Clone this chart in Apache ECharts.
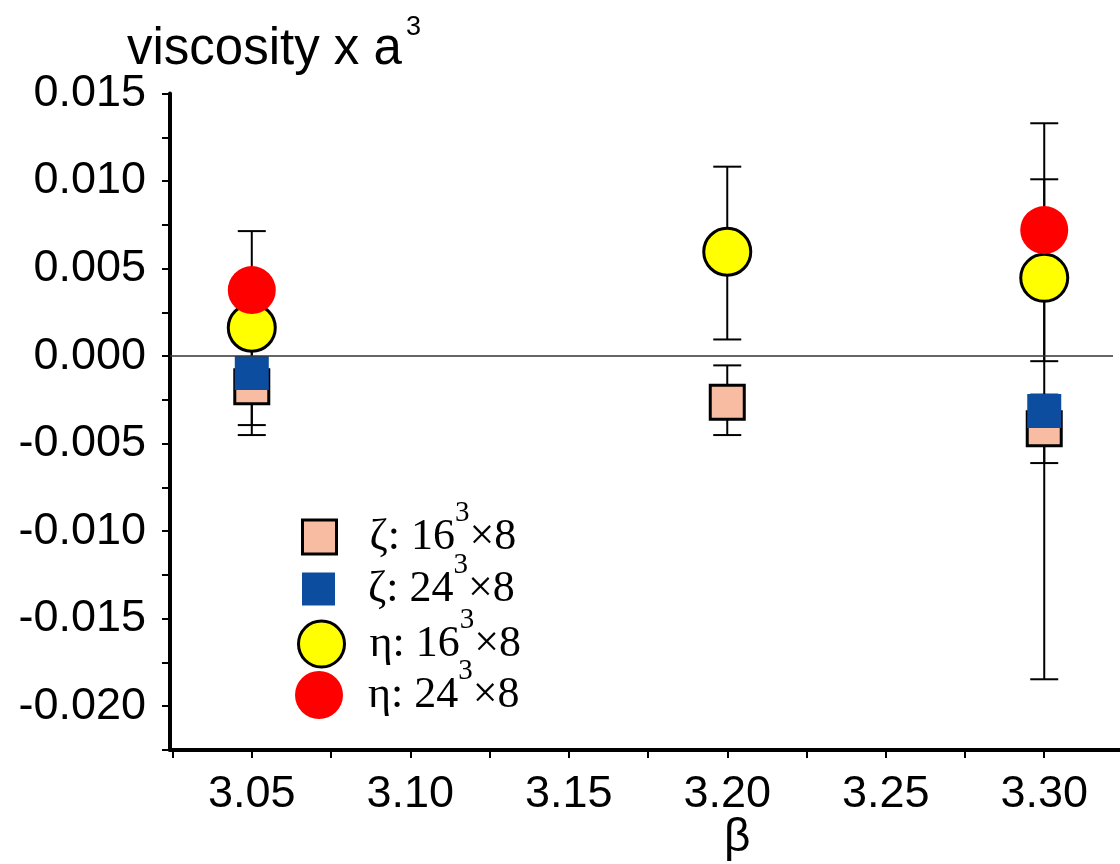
<!DOCTYPE html>
<html><head><meta charset="utf-8">
<script src="https://cdn.jsdelivr.net/npm/echarts@6/dist/echarts.min.js"></script>
<style>html,body{margin:0;padding:0;background:#fff}#c{width:1120px;height:864px}</style>
</head><body><div id="c"></div>
<script>
const betas = [3.05, 3.20, 3.30];
const zeta16 = [-0.00175, -0.00263, -0.00415];
const zeta16Low = [-0.00451, -0.00451, -0.00611];
const zeta16High = [0.0009, -0.00053, -0.0022];
const zeta24 = [-0.00097, null, -0.00314];
const zeta24Low = [null, null, -0.01846];
const zeta24High = [null, null, 0.0133];
const eta16 = [0.00162, 0.00596, 0.00447];
const eta16Low = [-0.00394, 0.00095, -0.00029];
const eta16High = [0.00714, 0.01082, 0.0101];
const eta24 = [0.00377, null, 0.0072];
const xTicks = [3.025, 3.05, 3.075, 3.10, 3.125, 3.15, 3.175, 3.20, 3.225, 3.25, 3.275, 3.30];
const xLabels = [3.05, 3.10, 3.15, 3.20, 3.25, 3.30];
const yLabels = [-0.020, -0.015, -0.010, -0.005, 0.000, 0.005, 0.010, 0.015];
const seriesNames = ['ζ: 16³×8', 'ζ: 24³×8', 'η: 16³×8', 'η: 24³×8'];
const legendRich = ['ζ: 16{s|3}×8', 'ζ: 24{s|3}×8', 'η: 16{s|3}×8', 'η: 24{s|3}×8'];
const xMin = 3.0242, xMax = 3.3239, zeroLineEnd = 3.3217;

const chart = echarts.init(document.getElementById('c'), null, {renderer: 'canvas'});

function pts(vals) {
  const out = [];
  betas.forEach((b, i) => { if (vals[i] != null) out.push([b, vals[i]]); });
  return out;
}
function errs(lo, hi) {
  const out = [];
  betas.forEach((b, i) => { if (lo[i] != null && hi[i] != null) out.push([b, lo[i], hi[i]]); });
  return out;
}
const errData = [].concat(errs(zeta16Low, zeta16High), errs(zeta24Low, zeta24High), errs(eta16Low, eta16High));

function renderErr(params, api) {
  const x = api.value(0), lo = api.value(1), hi = api.value(2);
  const pLo = api.coord([x, lo]), pHi = api.coord([x, hi]);
  const hw = 14;
  const style = {stroke: '#000', lineWidth: 2};
  return {type: 'group', children: [
    {type: 'line', shape: {x1: pLo[0], y1: pLo[1], x2: pHi[0], y2: pHi[1]}, style: style},
    {type: 'line', shape: {x1: pLo[0] - hw, y1: pLo[1], x2: pLo[0] + hw, y2: pLo[1]}, style: style},
    {type: 'line', shape: {x1: pHi[0] - hw, y1: pHi[1], x2: pHi[0] + hw, y2: pHi[1]}, style: style}
  ]};
}

const sans = 'Liberation Sans';
const serif = 'Liberation Serif';
const legendCfg = [
  {left: 301, top: 499, w: 34, h: 34, icon: 'rect', pad: 28, border: 3},
  {left: 302, top: 551, w: 33, h: 33, icon: 'rect', pad: 28, border: 0},
  {left: 297, top: 606, w: 46, h: 46, icon: 'circle', pad: 20, border: 3},
  {left: 295, top: 657, w: 48, h: 48, icon: 'circle', pad: 20, border: 0}
];

const option = {
  animation: false,
  backgroundColor: '#fff',
  title: [
    {text: 'viscosity x a{s|3}', left: 127, top: 14, padding: 0,
     textStyle: {fontFamily: sans, fontSize: 51, fontWeight: 'normal', color: '#000', lineHeight: 72,
       rich: {s: {fontFamily: sans, fontSize: 27, lineHeight: 26, verticalAlign: 'top', color: '#000', padding: [0, 0, 0, 4]}}}},
    {text: 'β', left: 724, top: 815, padding: 0,
     textStyle: {fontFamily: sans, fontSize: 46, fontWeight: 'normal', color: '#000'}}
  ],
  legend: seriesNames.map((n, i) => ({
    data: [{name: n, icon: legendCfg[i].icon}],
    left: legendCfg[i].left, top: legendCfg[i].top,
    itemWidth: legendCfg[i].w, itemHeight: legendCfg[i].h,
    padding: 0, selectedMode: false,
    itemStyle: {borderColor: '#000', borderWidth: legendCfg[i].border},
    formatter: () => legendRich[i],
    textStyle: {fontFamily: serif, fontSize: 44, color: '#000', lineHeight: 76, padding: [0, 0, 0, legendCfg[i].pad],
      rich: {s: {fontFamily: serif, fontSize: 29, lineHeight: 29, verticalAlign: 'top', color: '#000'}}}
  })),
  grid: {left: 170, right: 0, top: 93.5, bottom: 114, containLabel: false, outerBoundsMode: 'none'},
  xAxis: {
    type: 'value', min: xMin, max: xMax,
    axisLine: {show: true, onZero: false, lineStyle: {color: '#000', width: 4}},
    axisTick: {show: true, customValues: xTicks, length: 8, lineStyle: {color: '#000', width: 2}},
    axisLabel: {customValues: xLabels, formatter: v => v.toFixed(2), fontFamily: sans, fontSize: 45, color: '#000', margin: 22},
    splitLine: {show: false}
  },
  yAxis: {
    type: 'value', min: -0.0225, max: 0.015, interval: 0.0025,
    axisLine: {show: true, onZero: false, lineStyle: {color: '#000', width: 4}},
    axisTick: {show: true, length: 8, lineStyle: {color: '#000', width: 2}},
    axisLabel: {customValues: yLabels, formatter: v => v.toFixed(3), fontFamily: sans, fontSize: 45, color: '#000', margin: 24},
    splitLine: {show: false}
  },
  series: [
    {type: 'custom', name: 'errors', renderItem: renderErr, data: errData, encode: {x: 0, y: [1, 2]}, z: 1, silent: true},
    {type: 'scatter', name: seriesNames[0], data: pts(zeta16), symbol: 'rect', symbolSize: 34, z: 3,
     itemStyle: {color: '#F8BCA3', borderColor: '#000', borderWidth: 3, opacity: 1}, emphasis: {disabled: true},
     markLine: {silent: true, symbol: ['none', 'none'], label: {show: false}, emphasis: {disabled: true},
       lineStyle: {color: '#333', width: 1.5, type: 'solid'},
       data: [[{coord: [xMin, 0]}, {coord: [zeroLineEnd, 0]}]]}},
    {type: 'scatter', name: seriesNames[1], data: pts(zeta24), symbol: 'rect', symbolSize: 34, z: 4,
     itemStyle: {color: '#0C4DA0', borderWidth: 0, opacity: 1}, emphasis: {disabled: true}},
    {type: 'scatter', name: seriesNames[2], data: pts(eta16), symbol: 'circle', symbolSize: 47, z: 5,
     itemStyle: {color: '#FFFF00', borderColor: '#000', borderWidth: 3, opacity: 1}, emphasis: {disabled: true}},
    {type: 'scatter', name: seriesNames[3], data: pts(eta24), symbol: 'circle', symbolSize: 48, z: 6,
     itemStyle: {color: '#FF0000', borderWidth: 0, opacity: 1}, emphasis: {disabled: true}}
  ]
};
chart.setOption(option);
</script>
</body></html>
